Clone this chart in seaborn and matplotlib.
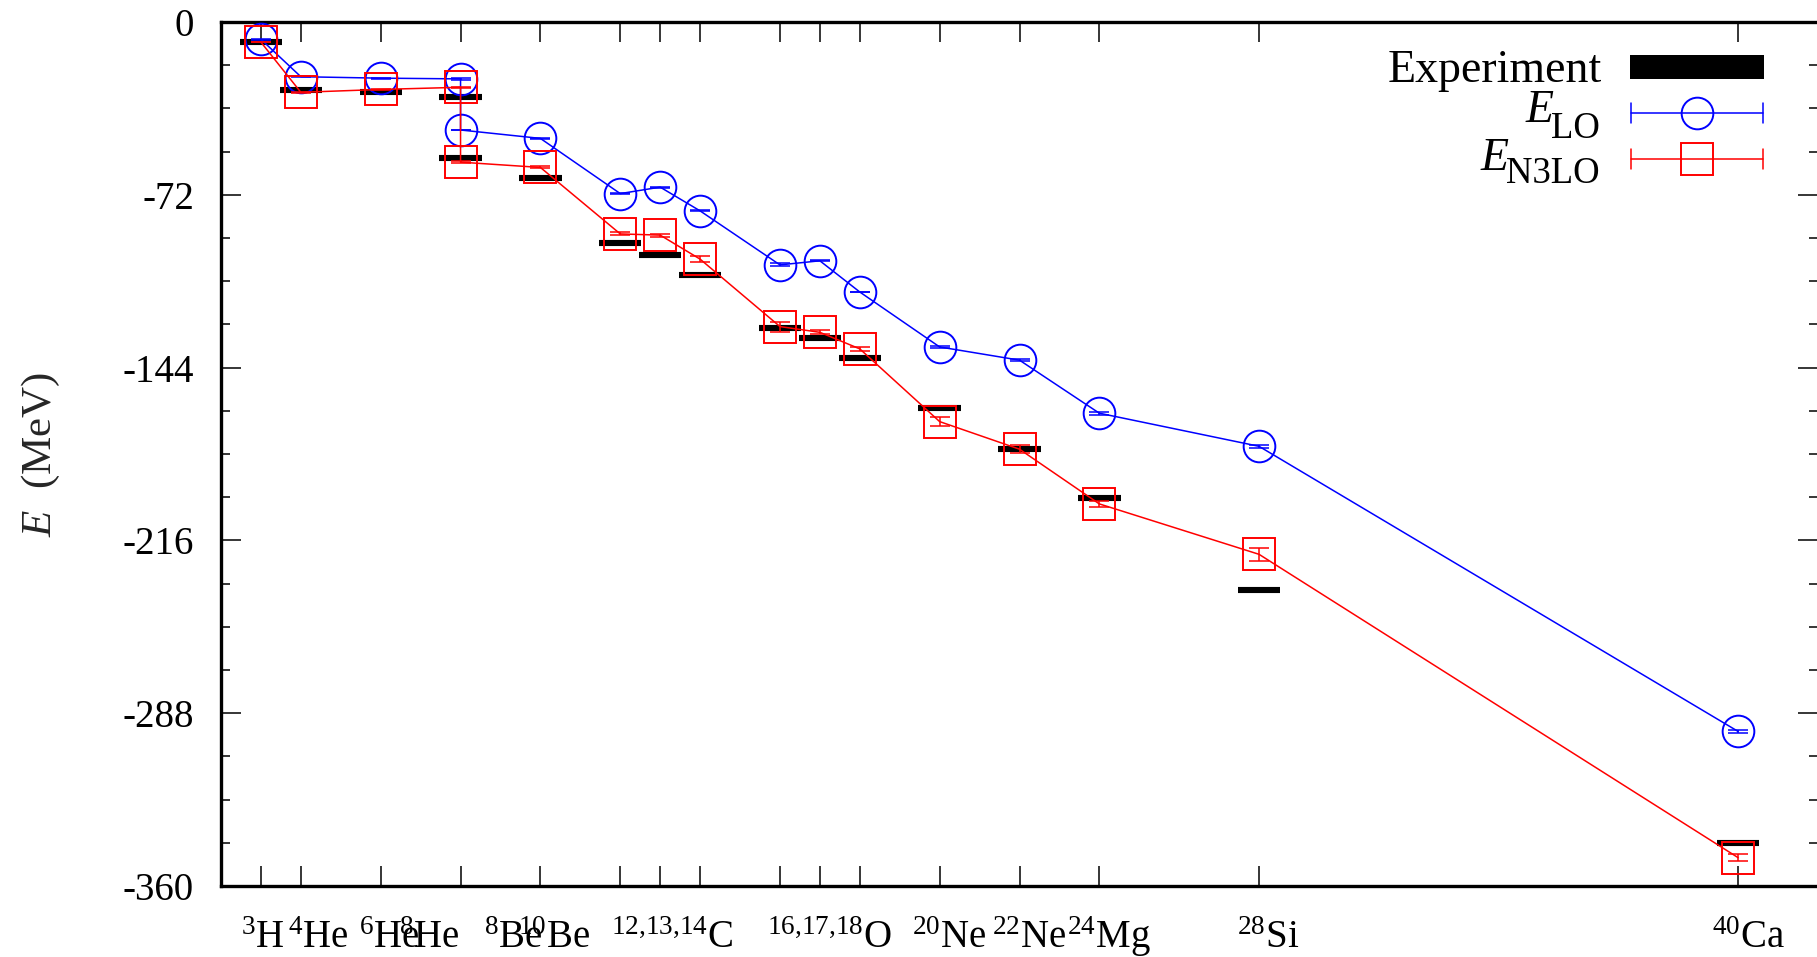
import numpy as np
import pandas as pd
import matplotlib
matplotlib.use("Agg")
import matplotlib.pyplot as plt
from matplotlib.lines import Line2D
from matplotlib.patches import Rectangle
from matplotlib.ticker import MultipleLocator, FixedLocator, NullFormatter, NullLocator
from matplotlib.transforms import blended_transform_factory
import seaborn as sns

# Nuclei in plotting order (8He and 8Be share A = 8)
nuclei = ["3H", "4He", "6He", "8He", "8Be", "10Be", "12C", "13C", "14C",
          "16O", "17O", "18O", "20Ne", "22Ne", "24Mg", "28Si", "40Ca"]
mass_number = [3, 4, 6, 8, 8, 10, 12, 13, 14, 16, 17, 18, 20, 22, 24, 28, 40]

# Ground-state energies (MeV)
e_exp = [-8.48, -28.30, -29.27, -31.41, -56.50, -64.98, -92.16, -97.11, -105.28,
         -127.62, -131.76, -139.81, -160.64, -177.77, -198.26, -236.54, -342.05]
e_lo = [-7.2, -22.8, -23.4, -23.7, -45.0, -48.5, -71.5, -68.8, -78.7,
        -101.2, -99.5, -112.5, -135.4, -140.9, -163.0, -176.8, -295.6]
err_lo = [0.1, 0.1, 0.2, 0.3, 0.2, 0.3, 0.2, 0.2, 0.2,
          0.6, 0.2, 0.2, 0.4, 0.5, 0.55, 0.7, 0.5]
e_n3lo = [-8.4, -29.3, -28.1, -27.2, -58.4, -60.6, -88.3, -88.8, -98.8,
          -126.9, -129.3, -136.2, -166.5, -178.0, -200.8, -221.8, -348.2]
err_n3lo = [0.1, 0.2, 0.2, 0.3, 0.3, 0.4, 0.6, 0.6, 1.1,
            2.1, 0.8, 0.8, 1.8, 1.6, 1.2, 2.8, 1.5]

# Axis tick positions and nucleus labels under the axis
x_ticks = [3, 4, 6, 8, 10, 12, 13, 14, 16, 17, 18, 20, 22, 24, 28, 40]
label_text = [r"$^{3}$H", r"$^{4}$He", r"$^{6}$He", r"$^{8}$He", r"$^{8}$Be",
              r"$^{10}$Be", r"$^{12{,}13{,}14}$C", r"$^{16{,}17{,}18}$O",
              r"$^{20}$Ne", r"$^{22}$Ne", r"$^{24}$Mg", r"$^{28}$Si", r"$^{40}$Ca"]
label_pos = [3.04, 4.45, 6.21, 7.21, 9.32, 10.34, 13.3, 17.25, 20.25,
             22.25, 24.25, 28.23, 40.25]

BLUE = "#0000ff"
RED = "#ff0000"

sns.set_style("ticks")
plt.rcParams.update({
    "font.family": ["Liberation Serif", "DejaVu Serif"],
    "mathtext.fontset": "custom",
    "mathtext.rm": "Liberation Serif",
    "mathtext.it": "Liberation Serif:italic",
    "mathtext.bf": "Liberation Serif:bold",
    "axes.unicode_minus": False,
    "axes.edgecolor": "black",
    "xtick.color": "black",
    "ytick.color": "black",
    "text.color": "black",
})

W, H = 1817, 957
fig = plt.figure(figsize=(W / 100, H / 100), dpi=100)
ax = fig.add_axes([221 / W, 1 - 886 / H, 1597 / W, 864 / H])

df = pd.DataFrame({"A": mass_number, "nucleus": nuclei, "exp": e_exp,
                   "LO": e_lo, "LO_err": err_lo,
                   "N3LO": e_n3lo, "N3LO_err": err_n3lo})

# Experimental values as short thick bars
A = df["A"].to_numpy(dtype=float)
ax.hlines(df["exp"], A - 0.53, A + 0.53, colors="black", lw=4.4, zorder=2)

# LO and N3LO lattice results
for col, color, mk in [("LO", BLUE, "o"), ("N3LO", RED, "s")]:
    sns.lineplot(data=df, x="A", y=col, sort=False, estimator=None, ax=ax,
                 color=color, lw=1.1, marker=mk, markersize=22.8,
                 mfc="none", mec=color, mew=1.4, legend=False, zorder=3)
    ax.errorbar(df["A"], df[col], yerr=df[col + "_err"], fmt="none",
                ecolor=color, elinewidth=1.1, capsize=7.2, capthick=1.1,
                zorder=3)

ax.set_xlim(2, 42)
ax.set_ylim(-360, 0)
ax.set_xlabel("")

ax.xaxis.set_major_locator(FixedLocator(x_ticks))
ax.xaxis.set_major_formatter(NullFormatter())
ax.xaxis.set_minor_locator(NullLocator())
ax.yaxis.set_major_locator(MultipleLocator(72))
ax.yaxis.set_minor_locator(MultipleLocator(18))
ax.tick_params(axis="both", which="both", direction="in", top=True, right=True,
               width=1.1)
ax.tick_params(axis="both", which="major", length=14.4)
ax.tick_params(axis="both", which="minor", length=6.8)
ax.tick_params(axis="y", which="major", labelsize=28, pad=19.4)
for sp in ax.spines.values():
    sp.set_linewidth(2.4)
    sp.set_visible(True)
ax.grid(False)

ax.set_ylabel(r"$E$  (MeV)", fontsize=31)
ax.yaxis.set_label_coords(-0.0994, 0.5)

trans = blended_transform_factory(ax.transData, ax.transAxes)
for txt, xp in zip(label_text, label_pos):
    ax.text(xp, -0.0718, txt, transform=trans, ha="center", va="baseline",
            fontsize=28, clip_on=False)


def fpos(x, y):
    return (x / W, 1 - y / H)


# Key
fs_key = 33
fs_sub = 26.5
fig.text(*fpos(1602, 82), "Experiment", ha="right", va="baseline", fontsize=fs_key)
x0, y0 = fpos(1630, 79)
fig.add_artist(Rectangle((x0, y0), 134 / W, 24 / H, transform=fig.transFigure,
                         facecolor="black", edgecolor="none"))

sub_lo = fig.text(*fpos(1600, 138), "LO", ha="right", va="baseline", fontsize=fs_sub)
sub_n3 = fig.text(*fpos(1600, 183), "N3LO", ha="right", va="baseline", fontsize=fs_sub)
fig.canvas.draw()
renderer = fig.canvas.get_renderer()
for sub, yb in [(sub_lo, 122), (sub_n3, 170)]:
    left = sub.get_window_extent(renderer).x0
    fig.text((left + 2) / W, 1 - yb / H, "E", ha="right", va="baseline",
             fontsize=fs_key, style="italic")

for yk, color, mk in [(112.7, BLUE, "o"), (159.3, RED, "s")]:
    xa, ya = fpos(1631, yk)
    xb, _ = fpos(1763, yk)
    fig.add_artist(Line2D([xa, xb], [ya, ya], color=color, lw=1.1,
                          transform=fig.transFigure))
    for xc in (1631, 1763):
        xx, yt = fpos(xc, yk - 10)
        _, yb = fpos(xc, yk + 10)
        fig.add_artist(Line2D([xx, xx], [yb, yt], color=color, lw=1.1,
                              transform=fig.transFigure))
    xm, ym = fpos(1697, yk)
    fig.add_artist(Line2D([xm], [ym], marker=mk, markersize=22.8, mfc="none",
                          mec=color, mew=1.4, linestyle="none",
                          transform=fig.transFigure))

fig.savefig("out.png", dpi=100)
